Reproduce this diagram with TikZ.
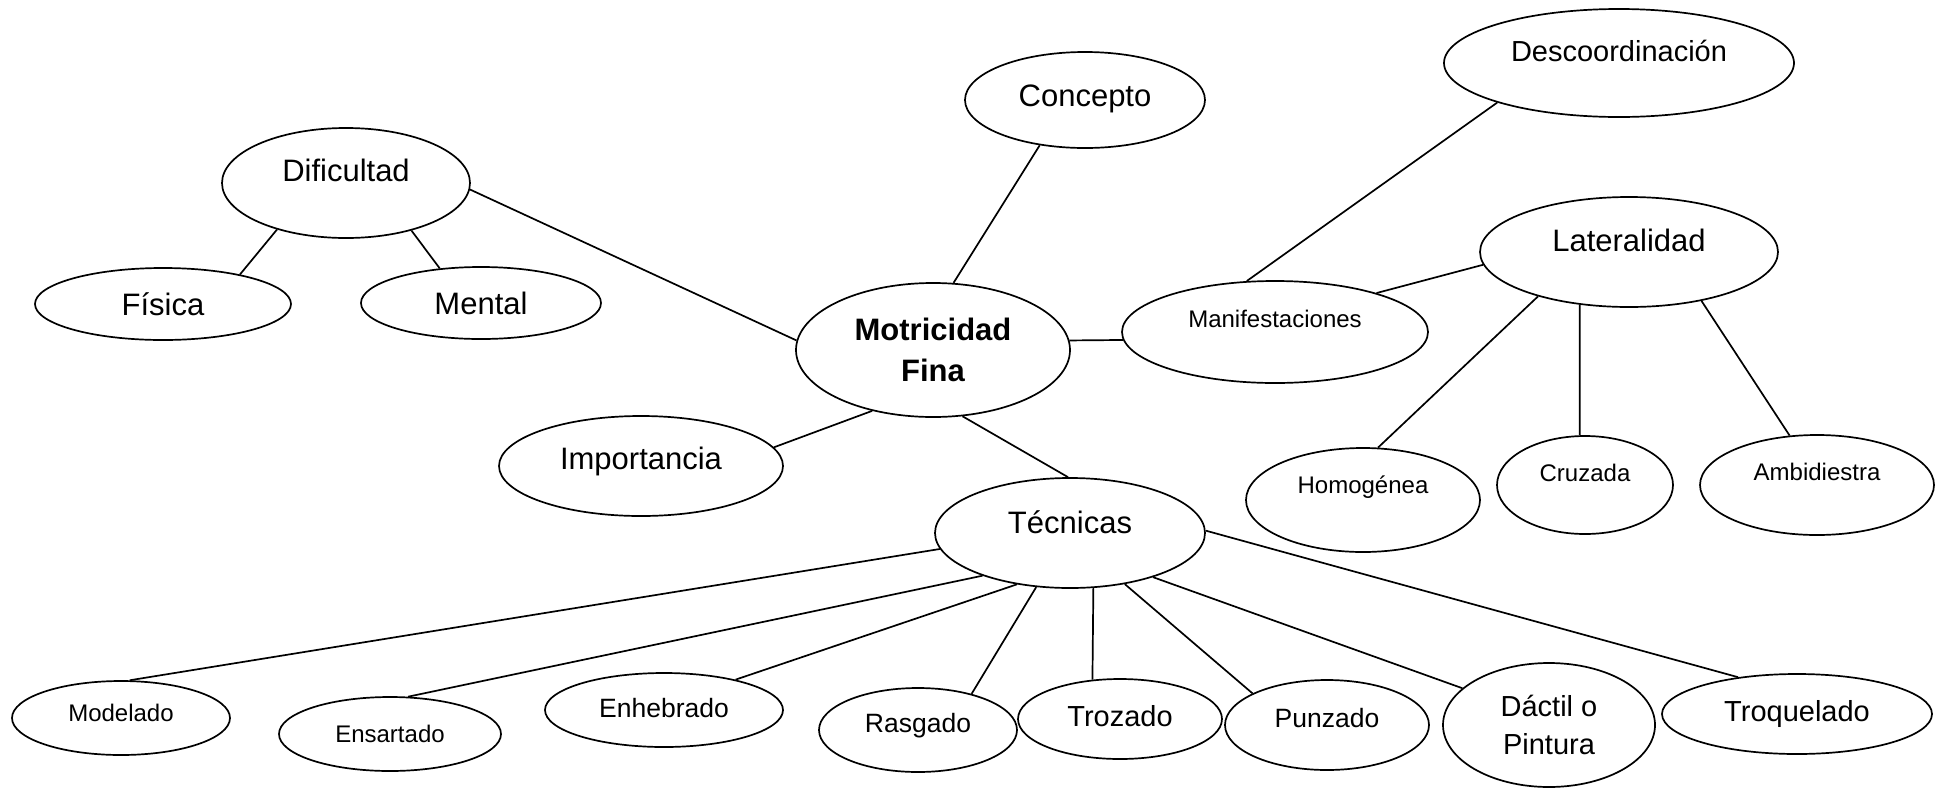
\documentclass[tikz,border=0pt]{standalone}
\usepackage{fontspec}
\setmainfont{Liberation Sans}
\usetikzlibrary{shapes.geometric}

\begin{document}
\begin{tikzpicture}[x=1pt,y=-1pt,line width=1.7pt,
    burbuja/.style 2 args={draw,ellipse,inner sep=0pt,minimum width=#1pt,minimum height=#2pt},
    grande/.style={font=\fontsize{31}{37}\selectfont,text height=22pt,text depth=0pt},
    media/.style={font=\fontsize{29}{35}\selectfont,text height=21pt,text depth=0pt},
    chica/.style={font=\fontsize{26.5}{32}\selectfont,text height=19pt,text depth=0pt},
    mini/.style={font=\fontsize{24}{29}\selectfont,text height=17pt,text depth=0pt},
    alza/.style={text depth=#1pt}]
    \useasboundingbox (0,0) rectangle (1936,788);

    \node[burbuja={274}{134},font=\bfseries\fontsize{31}{41}\selectfont,align=center] (mot) at (933,350) {Motricidad\\Fina};
    \node[burbuja={240}{96},grande,alza=10] (con) at (1085,100) {Concepto};
    \node[burbuja={350}{108},media,alza=24] (des) at (1619,63) {Descoordinación};
    \node[burbuja={248}{110},grande,alza=26] (dif) at (346,183) {Dificultad};
    \node[burbuja={256}{72},grande] (fis) at (163,304) {Física};
    \node[burbuja={240}{72},grande] (men) at (481,303) {Mental};
    \node[burbuja={284}{100},grande,alza=16] (imp) at (641,466) {Importancia};
    \node[burbuja={270}{110},grande,alza=22] (tec) at (1070,533) {Técnicas};
    \node[burbuja={306}{102},mini,alza=26] (man) at (1275,332) {Manifestaciones};
    \node[burbuja={298}{110},grande,alza=24] (lat) at (1629,252) {Lateralidad};
    \node[burbuja={234}{104},mini,alza=30] (hom) at (1363,500) {Homogénea};
    \node[burbuja={176}{98},mini,alza=24] (cru) at (1585,485) {Cruzada};
    \node[burbuja={234}{100},mini,alza=26] (amb) at (1817,485) {Ambidiestra};
    \node[burbuja={218}{74},mini,alza=10] (mod) at (121,718) {Modelado};
    \node[burbuja={222}{74},mini] (ens) at (390,734) {Ensartado};
    \node[burbuja={238}{74},chica,alza=4] (enh) at (664,710) {Enhebrado};
    \node[burbuja={198}{84},chica,alza=14] (ras) at (918,730) {Rasgado};
    \node[burbuja={204}{80},media,alza=6] (tro) at (1120,719) {Trozado};
    \node[burbuja={204}{90},chica,alza=14] (pun) at (1327,725) {Punzado};
    \node[burbuja={212}{124},font=\fontsize{29}{38}\selectfont,align=center] (dac) at (1549,725) {Dáctil o\\Pintura};
    \node[burbuja={270}{80},media,alza=6] (trq) at (1797,714) {Troquelado};

    \draw (con.225) -- (mot.73);
    \draw (dif.-3) -- (mot.176);
    \draw (dif.214) -- (fis.21);
    \draw (dif.-36) -- (men.140);
    \draw (imp.8) -- (mot.225);
    \draw (mot.-66) -- (tec.92);
    \draw (mot.4) -- (man.183);
    \draw (man.119) -- (des.198);
    \draw (man.21) -- (lat.185);
    \draw (lat.206) -- (hom.74);
    \draw (lat.227) -- (cru.96);
    \draw (lat.-34) -- (amb.119);

    \draw (tec.187) -- (mod.77);
    \draw (tec.206) -- (ens.64);
    \draw (tec.224) -- (enh.23);
    \draw (tec.238) -- (ras.34);
    \draw (tec.-67) -- (tro.125);
    \draw (tec.-43) -- (pun.157);
    \draw (tec.-28) -- (dac.157);
    \draw (tec.1) -- (trq.148);
\end{tikzpicture}
\end{document}
